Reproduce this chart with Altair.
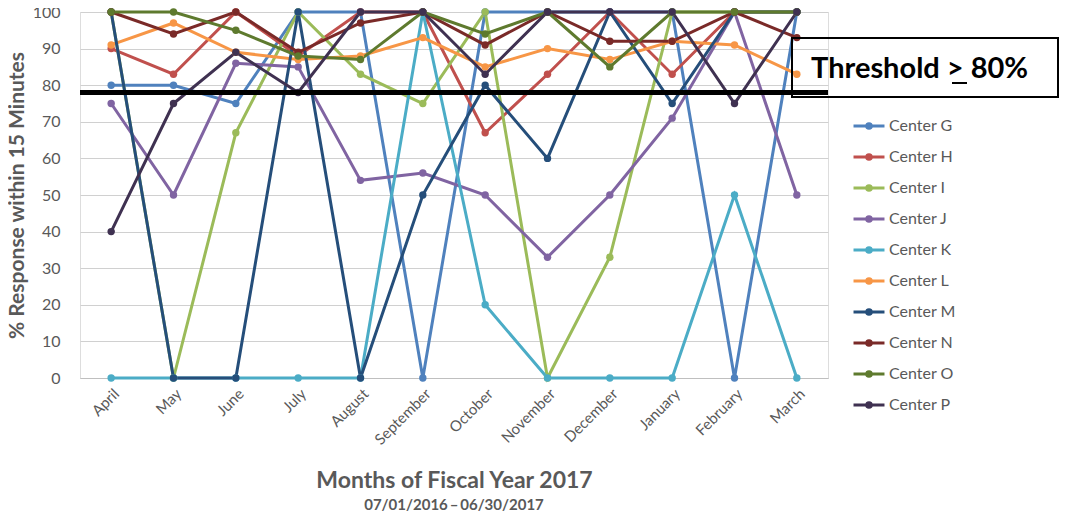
import altair as alt
import pandas as pd

months = ["April", "May", "June", "July", "August", "September", "October",
          "November", "December", "January", "February", "March"]
centers = ["Center G", "Center H", "Center I", "Center J", "Center K",
           "Center L", "Center M", "Center N", "Center O", "Center P"]

center_g = [80, 80, 75, 100, 100, 0, 100, 100, 100, 100, 0, 100]
center_h = [90, 83, 100, 88, 100, 100, 67, 83, 100, 83, 100, 100]
center_i = [100, 0, 67, 100, 83, 75, 100, 0, 33, 100, 100, 100]
center_j = [75, 50, 86, 85, 54, 56, 50, 33, 50, 71, 100, 50]
center_k = [0, 0, 0, 0, 0, 100, 20, 0, 0, 0, 50, 0]
center_l = [91, 97, 89, 87, 88, 93, 85, 90, 87, 92, 91, 83]
center_m = [100, 0, 0, 100, 0, 50, 80, 60, 100, 75, 100, 100]
center_n = [100, 94, 100, 89, 97, 100, 91, 100, 92, 92, 100, 93]
center_o = [100, 100, 95, 88, 87, 100, 94, 100, 85, 100, 100, 100]
center_p = [40, 75, 89, 78, 100, 100, 83, 100, 100, 100, 75, 100]

series = [center_g, center_h, center_i, center_j, center_k,
          center_l, center_m, center_n, center_o, center_p]
colors = ["#4F81BD", "#C0504D", "#9BBB59", "#8064A2", "#4BACC6",
          "#F79646", "#254E7A", "#7A2A28", "#5E7A2E", "#3F3151"]

y_ticks = [0, 10, 20, 30, 40, 50, 60, 70, 80, 90, 100]
threshold_value = [78]
threshold_text = "Threshold > 80%"
x_title = "Months of Fiscal Year 2017"
x_subtitle = "07/01/2016\u2009\u2013\u200906/30/2017"

rows = []
for name, vals in zip(centers, series):
    for mth, v in zip(months, vals):
        rows.append({"center": name, "month": mth, "value": v})
df = pd.DataFrame(rows)

FONT = "Lato"
GRAY = "#595959"
W, H = 748, 366

legend_path = ("M-1,0L1,0M-0.15,0A0.15,0.15 0 1,0 0.15,0"
               "A0.15,0.15 0 1,0 -0.15,0")

y_scale = alt.Scale(domain=[0, 100], nice=False)
y_axis = alt.Axis(values=y_ticks, labelFontSize=16,
                  labelColor=GRAY, labelFont=FONT, labelPadding=20,
                  labelOverlap=False,
                  ticks=False, domain=False, gridColor="#D0D0D0",
                  gridWidth=1, title="% Response within 15 Minutes",
                  titleFont=FONT, titleFontSize=21,
                  titleFontWeight="bold", titleColor=GRAY,
                  titleX=-63, titleY=H / 2, titleAngle=270,
                  titleAlign="center", titleBaseline="middle")

x_enc = alt.X("month:N", sort=months,
              scale=alt.Scale(type="point", padding=0.5),
              axis=alt.Axis(labelAngle=-45, labelFontSize=15, labelColor=GRAY,
                            labelFont=FONT, labelPadding=8, ticks=False,
                            domain=True, domainColor="#BFBFBF", grid=False,
                            title=x_title, titleFont=FONT, titleFontSize=23,
                            titleFontWeight="bold", titleColor=GRAY,
                            titleBaseline="alphabetic", titleY=109))
y_enc = alt.Y("value:Q", scale=y_scale, axis=y_axis)
color_enc = alt.Color("center:N",
                      scale=alt.Scale(domain=centers, range=colors),
                      legend=alt.Legend(orient="none", legendX=772, legendY=97,
                                        title=None, symbolType=legend_path,
                                        symbolSize=960, symbolStrokeWidth=3,
                                        labelFont=FONT, labelFontSize=16,
                                        labelColor=GRAY, labelOffset=3,
                                        rowPadding=5))

base = alt.Chart(df).encode(x=x_enc, y=y_enc, color=color_enc)
lines = base.mark_line(strokeWidth=3)
points = base.mark_point(filled=True, size=55, opacity=1).encode(
    color=alt.Color("center:N", scale=alt.Scale(domain=centers, range=colors),
                    legend=None))

thr_df = pd.DataFrame({"t": threshold_value})
threshold = alt.Chart(thr_df).mark_rule(color="black", strokeWidth=5).encode(
    y=alt.Y("t:Q", scale=y_scale, axis=y_axis))

box = alt.Chart(thr_df).mark_rect(fill="transparent", stroke="black",
                                  strokeWidth=2).encode(
    x=alt.value(712), x2=alt.value(978), y=alt.value(26), y2=alt.value(85))
box_text = alt.Chart(thr_df).mark_text(
    text=threshold_text, align="left", baseline="alphabetic", font=FONT,
    fontSize=29, fontWeight="bold", color="black").encode(
    x=alt.value(731), y=alt.value(66))
underline = alt.Chart(thr_df).mark_rule(color="black", strokeWidth=2).encode(
    x=alt.value(872), x2=alt.value(887), y=alt.value(71))
subtitle = alt.Chart(thr_df).mark_text(
    text=x_subtitle, align="center", baseline="alphabetic", font=FONT,
    fontSize=15, fontWeight="bold", color=GRAY).encode(
    x=alt.value(W / 2), y=alt.value(498))

chart = alt.layer(lines, points, threshold, box, box_text, underline,
                  subtitle).properties(
    width=W, height=H,
    autosize=alt.AutoSizeParams(type="none"),
    padding={"left": 72, "top": 4, "right": 233, "bottom": 133},
).configure_view(stroke=None).configure(background="white")

chart.save("out.html", embed_options={"renderer": "svg", "actions": False})
